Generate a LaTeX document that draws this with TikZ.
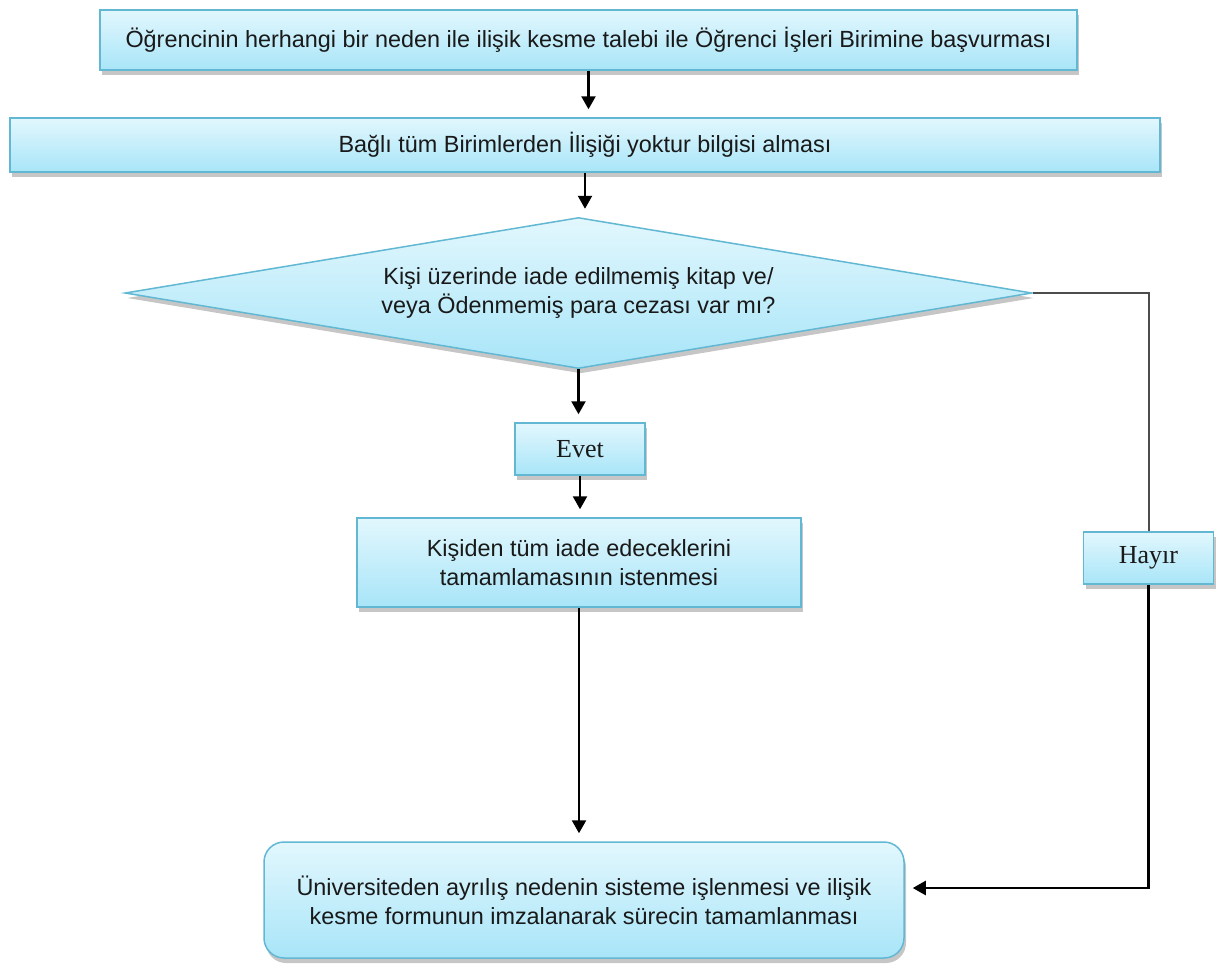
\documentclass[tikz,border=0pt]{standalone}
\usepackage{fontspec}
\setmainfont{Liberation Serif}
\setsansfont{Liberation Sans}
\usetikzlibrary{positioning,shapes,shadows,arrows.meta}
\definecolor{boxtop}{HTML}{E2F7FD}
\definecolor{boxbot}{HTML}{A8E5F8}
\definecolor{boxline}{HTML}{62B8D3}
\tikzset{
	flowbox/.style={
		rectangle,
		draw=boxline,
		line width=0.75pt,
		top color=boxtop,
		bottom color=boxbot,
		drop shadow={shadow xshift=1pt,shadow yshift=-2.5pt,opacity=0.45},
		font=\sffamily\fontsize{11.7}{14.5}\selectfont,
		text=black!90,
		align=center,
		inner sep=0pt
	},
	answer/.style={
		flowbox,
		font=\rmfamily\fontsize{13}{15}\selectfont,
		minimum width=65pt,
		minimum height=26pt
	},
	decision/.style={
		flowbox,
		diamond,
		aspect=6,
		minimum width=453.5pt,
		minimum height=75.5pt
	},
	arr/.style={-{Triangle[width=7pt,length=6.5pt]}, line width=1.2pt, shorten >=4pt}
}

\begin{document}
\begin{tikzpicture}[x=0.5pt, y=-0.5pt]
			\useasboundingbox (0,0) rectangle (1222,965);
			\node [flowbox, minimum width=488.5pt, minimum height=30pt] (basvuru) at (588.5,40) {Öğrencinin herhangi bir neden ile ilişik kesme talebi ile Öğrenci İşleri Birimine başvurması};
			\node [flowbox, minimum width=575pt, minimum height=27pt] (bilgi) at (585,145) {Bağlı tüm Birimlerden İlişiği yoktur bilgisi alması};
			\node [decision] (soru) at (578.5,293) {Kişi üzerinde iade edilmemiş kitap ve/\\veya Ödenmemiş para cezası var mı?};
			\node [answer] (evet) at (580,449) {Evet};
			\node [flowbox, minimum width=222pt, minimum height=44.5pt] (iade) at (579,562.5) {Kişiden tüm iade edeceklerini\\tamamlamasının istenmesi};
			\node [answer] (hayir) at (1148.5,558) {Hayır};
			\node [flowbox, rounded corners=10pt, minimum width=320pt, minimum height=58pt] (son) at (584,900) {Üniversiteden ayrılış nedenin sisteme işlenmesi ve ilişik\\kesme formunun imzalanarak sürecin tamamlanması};
			\draw [arr] (basvuru.south) -- (basvuru.south |- bilgi.north);
			\draw [arr] (bilgi.south) -- (bilgi.south |- soru.north);
			\draw [arr] (soru.south) -- (soru.south |- evet.north);
			\draw [arr] (evet.south) -- (evet.south |- iade.north);
			\draw [arr] (iade.south) -- (iade.south |- son.north);
			\draw [gray!60!black, line width=1pt] (soru.east) -| (hayir.north);
			\draw [arr] (hayir.south) |- ([yshift=6pt]son.east);
		\end{tikzpicture}
\end{document}
